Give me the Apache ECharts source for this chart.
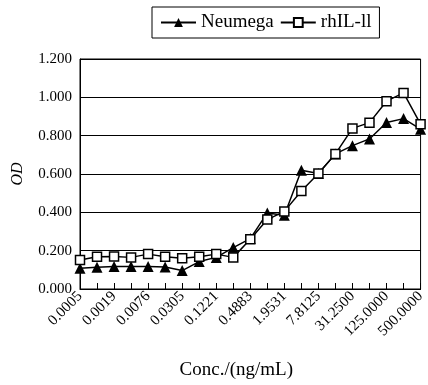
<!DOCTYPE html>
<html>
<head>
<meta charset="utf-8">
<script src="https://cdn.jsdelivr.net/npm/echarts@6/dist/echarts.min.js"></script>
<style>
  html, body { margin: 0; padding: 0; background: #fff; }
  #chart { width: 428px; height: 385px; }
</style>
</head>
<body>
<div id="chart"></div>
<script>
var concs = ['0.0005', '0.0010', '0.0019', '0.0038', '0.0076', '0.0153', '0.0305', '0.0610',
  '0.1221', '0.2441', '0.4883', '0.9766', '1.9531', '3.9063', '7.8125', '15.6250',
  '31.2500', '62.5000', '125.0000', '250.0000', '500.0000'];
var neumega = [0.108, 0.113, 0.117, 0.117, 0.117, 0.115, 0.096, 0.143, 0.165, 0.216, 0.263,
  0.397, 0.385, 0.620, 0.603, 0.705, 0.748, 0.783, 0.869, 0.889, 0.834];
var rhil = [0.151, 0.168, 0.170, 0.165, 0.182, 0.168, 0.160, 0.168, 0.182, 0.165, 0.260,
  0.362, 0.405, 0.511, 0.603, 0.705, 0.838, 0.868, 0.980, 1.023, 0.860];
var yTicks = [0, 0.2, 0.4, 0.6, 0.8, 1.0, 1.2];

var font = '"Liberation Serif", "Times New Roman", serif';
var chart = echarts.init(document.getElementById('chart'));

var option = {
  animation: false,
  textStyle: { fontFamily: font, color: '#000' },
  legend: {
    top: 7,
    left: 152,
    data: ['Neumega', 'rhIL-ll'],
    borderColor: '#000',
    borderWidth: 1,
    padding: [6, 8, 6, 8],
    itemGap: 6,
    itemWidth: 35,
    itemHeight: 11,
    textStyle: { fontFamily: font, fontSize: 19, color: '#000' }
  },
  grid: {
    left: 80, right: 4, top: 59, bottom: 93,
    show: true, borderColor: '#000', borderWidth: 1
  },
  xAxis: {
    type: 'category',
    data: concs,
    boundaryGap: false,
    name: 'Conc./(ng/mL)',
    nameLocation: 'middle',
    nameGap: 72,
    nameMoveOverlap: false,
    nameTextStyle: { fontFamily: font, fontSize: 19, color: '#000', padding: [0, 28, 0, 0] },
    axisLine: { lineStyle: { color: '#000' } },
    axisTick: { inside: true, length: 6, interval: 0, lineStyle: { color: '#000' } },
    axisLabel: {
      interval: 1, rotate: 45, fontFamily: font, fontSize: 15, color: '#000', margin: 5
    }
  },
  yAxis: {
    type: 'value',
    min: yTicks[0],
    max: yTicks[yTicks.length - 1],
    interval: 0.2,
    name: 'OD',
    nameLocation: 'middle',
    nameGap: 54,
    nameMoveOverlap: false,
    nameTextStyle: { fontFamily: font, fontSize: 16, fontStyle: 'italic', color: '#000' },
    axisLine: { show: true, lineStyle: { color: '#000' } },
    axisTick: { show: false },
    axisLabel: {
      fontFamily: font, fontSize: 15, color: '#000', margin: 8,
      formatter: function (v) { return v.toFixed(3); }
    },
    splitLine: { lineStyle: { color: '#000', width: 1 } }
  },
  series: [
    {
      name: 'Neumega',
      type: 'line',
      data: neumega,
      symbol: 'triangle',
      symbolSize: 11,
      showAllSymbol: true,
      itemStyle: { color: '#000' },
      lineStyle: { color: '#000', width: 1.5 }
    },
    {
      name: 'rhIL-ll',
      type: 'line',
      data: rhil,
      symbol: 'rect',
      symbolSize: 9,
      showAllSymbol: true,
      itemStyle: { color: '#fff', borderColor: '#000', borderWidth: 1.5 },
      lineStyle: { color: '#000', width: 1.5 }
    }
  ]
};
chart.setOption(option);
</script>
</body>
</html>
